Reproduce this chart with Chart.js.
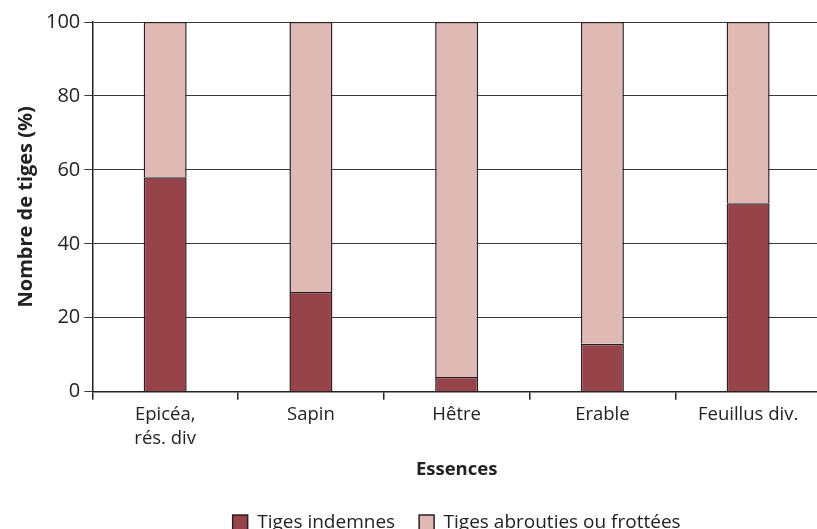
<!DOCTYPE html>
<html lang="fr">
<head>
<meta charset="UTF-8">
<title>Essences</title>
<script src="https://cdn.jsdelivr.net/npm/chart.js"></script>
<style>
  html, body { margin: 0; padding: 0; background: #fff; overflow: hidden; }
  #wrap { width: 821px; height: 542px; position: relative; }
</style>
</head>
<body>
<div id="wrap"><canvas id="chart"></canvas></div>
<script>
// Données
const essences = [['Epicéa,', 'rés. div'], 'Sapin', 'Hêtre', 'Erable', 'Feuillus div.'];
const indemnes = [58, 27, 4, 13, 51];
const abrouties = [42, 73, 96, 87, 49];
const yTicks = [0, 20, 40, 60, 80, 100];

const police = "'Open Sans', sans-serif";

new Chart(document.getElementById('chart'), {
    type: 'bar',
    data: {
        labels: essences,
        datasets: [
            {
                label: 'Tiges indemnes',
                data: indemnes,
                backgroundColor: '#96444a',
                borderColor: '#2a2022',
                borderWidth: 1.5,
                barPercentage: 0.295,
                categoryPercentage: 1
            },
            {
                label: 'Tiges abrouties ou frottées',
                data: abrouties,
                backgroundColor: '#dfbab5',
                borderColor: '#2a2022',
                borderWidth: 1.5,
                barPercentage: 0.295,
                categoryPercentage: 1
            }
        ]
    },
    options: {
        responsive: true,
        maintainAspectRatio: false,
        animation: false,
        layout: { padding: { left: 10, right: 0, top: 22, bottom: 0 } },
        plugins: {
            legend: {
                position: 'bottom',
                fullSize: false, // centrée sur la zone du graphique
                labels: {
                    color: '#222',
                    font: { family: police, size: 19 },
                    boxWidth: 15,
                    boxHeight: 15,
                    padding: 24
                }
            },
            tooltip: { enabled: false }
        },
        scales: {
            x: {
                stacked: true,
                grid: { display: true, drawOnChartArea: false, offset: true, tickLength: 8, color: '#222', lineWidth: 1.5 },
                border: { color: '#222', width: 1.5 },
                ticks: { color: '#222', font: { family: police, size: 18.5, lineHeight: 1.3 }, padding: 3, maxRotation: 0 },
                title: { display: true, text: 'Essences', color: '#222', font: { family: police, size: 18.5, weight: 'bold' }, padding: { top: 5, bottom: 8 } }
            },
            y: {
                stacked: true,
                min: 0,
                max: 100,
                afterBuildTicks: (axis) => { axis.ticks = yTicks.map(v => ({ value: v })); },
                grid: { color: '#3a3a3a', lineWidth: 1, tickLength: 8 },
                border: { color: '#222', width: 1.5 },
                ticks: { color: '#222', font: { family: police, size: 20 }, padding: 4 },
                title: { display: true, text: 'Nombre de tiges (%)', color: '#222', font: { family: police, size: 20, weight: 'bold' }, padding: { bottom: 4 } }
            }
        }
    }
});
</script>
</body>
</html>
